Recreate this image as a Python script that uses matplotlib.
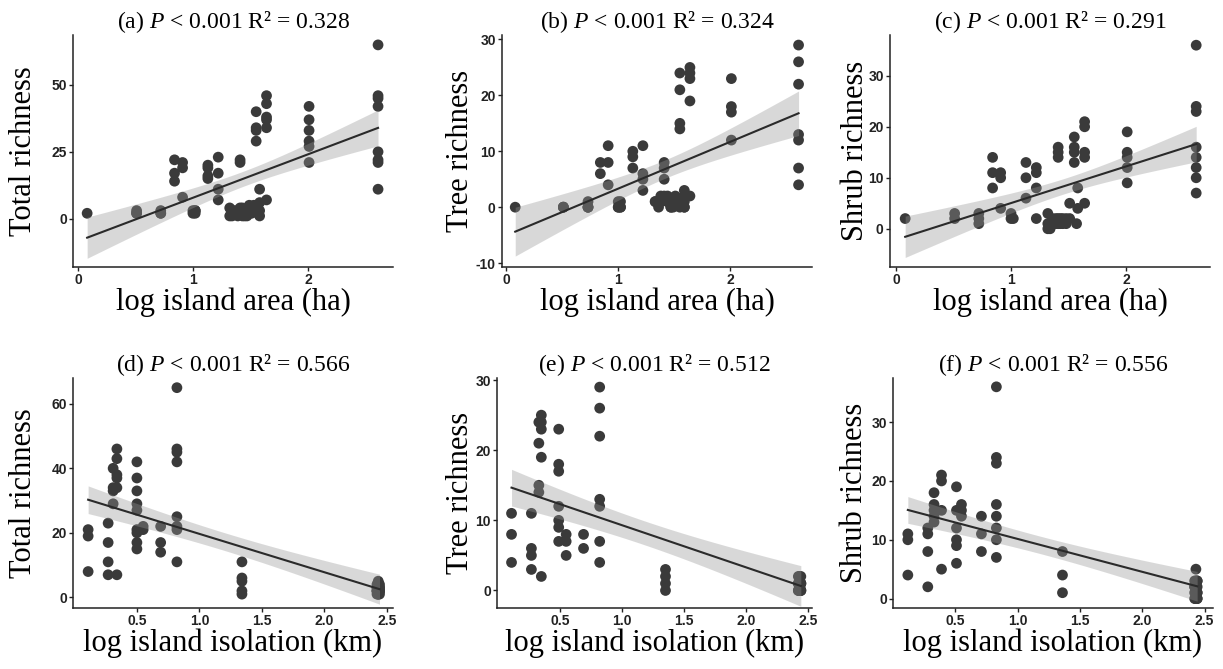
import numpy as np
import matplotlib.pyplot as plt

plt.rcParams['mathtext.fontset'] = 'custom'
plt.rcParams['mathtext.rm'] = 'Liberation Serif'
plt.rcParams['mathtext.it'] = 'Liberation Serif:italic'
plt.rcParams['axes.unicode_minus'] = False

# ---- data: x value of each island group, y values in that group
# (dense clusters of overlapping low values hold more islands than can be told apart)
area_total_x = [0.08, 0.51, 0.72, 0.84, 0.91, 1.00, 1.02, 1.13, 1.22, 1.32, 1.34, 1.36, 1.39, 1.41, 1.43, 1.45,
                1.47, 1.49, 1.51, 1.53, 1.55, 1.58, 1.64, 2.01, 2.61]
area_total_y = [[2], [3, 2, 2], [3, 2, 2], [22, 17, 14], [21, 19, 8], [3, 2], [3, 2, 3], [20, 19, 16, 15],
                [23, 17, 11, 7], [4, 1], [3, 2, 1], [3, 2], [3, 1], [22, 21, 4, 2], [4, 3, 1], [3, 1],
                [2, 1], [5, 3], [4, 2], [5], [40, 34, 33, 29], [11, 6, 3, 1],
                [46, 43, 38, 37, 34, 7], [42, 37, 33, 29, 27, 21], [65, 46, 45, 42, 25, 22, 21, 11]]

area_tree_x = [0.08, 0.51, 0.73, 0.84, 0.91, 1.00, 1.02, 1.13, 1.22, 1.33, 1.36, 1.38, 1.41, 1.44, 1.47,
               1.49, 1.51, 1.55, 1.59, 1.64, 2.01, 2.61]
area_tree_y = [[0], [0, 0, 0], [1, 0, 0, 0], [8, 6], [11, 8, 4], [0, 1, 0], [1, 0, 0], [10, 9, 7], [11, 6, 5, 3],
               [1, 1], [1, 0], [2, 1], [8, 7, 5, 2], [2, 1, 1], [0, 0], [1, 0], [2, 1],
               [24, 21, 15, 14, 0], [3, 2, 1, 0, 0], [25, 24, 23, 19, 2], [23, 18, 17, 12],
               [29, 26, 22, 13, 12, 7, 4]]

area_shrub_x = [0.08, 0.51, 0.72, 0.84, 0.91, 1.00, 1.02, 1.13, 1.22, 1.32, 1.34, 1.36, 1.39, 1.41, 1.43,
                1.45, 1.48, 1.51, 1.55, 1.57, 1.58, 1.64, 2.01, 2.61]
area_shrub_y = [[2], [3, 2], [3, 2, 1], [14, 11, 8], [11, 10, 4], [3, 2], [2], [13, 10, 6], [12, 11, 8, 2],
                [3, 1, 0], [1, 0], [2, 1], [2, 1], [16, 15, 14, 2, 1], [2, 1], [2, 1], [2, 1], [5, 2],
                [18, 16, 15, 13], [1], [8, 4], [21, 20, 15, 14, 5], [19, 15, 14, 12, 9],
                [36, 24, 23, 16, 14, 12, 10, 7]]

iso_total_x = [0.11, 0.27, 0.31, 0.34, 0.50, 0.55, 0.69, 0.82, 1.34, 2.42, 2.43, 2.44]
iso_total_y = [[21, 19, 8], [23, 17, 11, 7], [40, 34, 33, 29], [46, 43, 38, 37, 34, 7],
               [42, 37, 33, 29, 27, 21, 20, 17, 15], [22, 21], [22, 17, 14],
               [65, 46, 45, 42, 25, 22, 21, 11], [11, 6, 5, 2, 1],
               [4, 3, 2, 2, 1, 3, 2], [5, 4, 3, 3, 2, 1, 1, 4], [4, 3, 2, 2, 1, 3, 2]]

iso_tree_x = [0.11, 0.27, 0.33, 0.35, 0.49, 0.55, 0.69, 0.82, 1.35, 2.42, 2.43, 2.44]
iso_tree_y = [[11, 8, 4], [11, 6, 5, 3], [24, 21, 15, 14], [25, 24, 23, 19, 2],
              [23, 18, 17, 12, 10, 9, 7], [8, 7, 5], [8, 6], [29, 26, 22, 13, 12, 7, 4],
              [3, 2, 1, 0], [1, 0, 2, 1, 0], [2, 1, 1, 0, 0, 0, 1], [2, 1, 1, 0, 0, 0, 1]]

iso_shrub_x = [0.12, 0.28, 0.33, 0.39, 0.51, 0.55, 0.71, 0.83, 1.36, 2.42, 2.43, 2.44]
iso_shrub_y = [[11, 10, 4], [12, 11, 8, 2], [18, 16, 15, 14, 13], [21, 20, 15, 5],
               [19, 15, 12, 10, 9, 6], [16, 15, 14], [14, 11, 8], [36, 24, 23, 16, 14, 12, 10, 7],
               [8, 4, 1], [2, 1, 3, 0, 2], [5, 3, 2, 1, 0, 0, 2], [3, 2, 1, 1, 0, 0, 3]]

titles = ["(a) $P$ < 0.001 R\u00b2 = 0.328", "(b) $P$ < 0.001 R\u00b2 = 0.324", "(c) $P$ < 0.001 R\u00b2 = 0.291",
          "(d) $P$ < 0.001 R\u00b2 = 0.566", "(e) $P$ < 0.001 R\u00b2 = 0.512", "(f) $P$ < 0.001 R\u00b2 = 0.556"]
ylabels = ["Total richness", "Tree richness", "Shrub richness"] * 2
xlabels = ["log island area (ha)"] * 3 + ["log island isolation (km)"] * 3

panels = [(area_total_x, area_total_y), (area_tree_x, area_tree_y), (area_shrub_x, area_shrub_y),
          (iso_total_x, iso_total_y), (iso_tree_x, iso_tree_y), (iso_shrub_x, iso_shrub_y)]

# axes boxes in pixels (left, top, right, bottom) on a 1223x669 canvas
W, H = 1223, 669
boxes = [(73, 35, 393, 267), (502, 35, 812, 267), (890, 35, 1210, 267),
         (73, 378, 393, 608), (497, 378, 812, 608), (893, 378, 1213, 608)]
xlims = [(-0.043, 2.74), (-0.038, 2.73), (-0.052, 2.73), (-0.011, 2.548), (-0.007, 2.53), (0.001, 2.567)]
ylims = [(-18.1, 68.7), (-10.7, 30.8), (-7.5, 38.0), (-3.3, 68), (-2.5, 30.3), (-1.6, 37.5)]
yticks = [[0, 25, 50], [-10, 0, 10, 20, 30], [0, 10, 20, 30], [0, 20, 40, 60], [0, 10, 20, 30], [0, 10, 20, 30]]
ylab_x = [-0.156, -0.135, -0.109, -0.156, -0.117, -0.119]

PT = '#3a3a3a'
serif = 'Liberation Serif'

fig = plt.figure(figsize=(12.23, 6.69), dpi=100)

for i, ((gx, gy), box) in enumerate(zip(panels, boxes)):
    l, t, r, b = box
    ax = fig.add_axes([l / W, 1 - b / H, (r - l) / W, (b - t) / H])
    x = np.concatenate([[xv] * len(v) for xv, v in zip(gx, gy)])
    y = np.concatenate([np.array(v, float) for v in gy])

    ax.scatter(x, y, s=60, color=PT, edgecolors='none', zorder=2)

    # OLS fit with 95% confidence band
    n = len(x)
    slope, icpt = np.polyfit(x, y, 1)
    resid = y - (slope * x + icpt)
    s = np.sqrt(np.sum(resid ** 2) / (n - 2))
    xx = np.linspace(x.min(), x.max(), 100)
    yy = slope * xx + icpt
    se = s * np.sqrt(1 / n + (xx - x.mean()) ** 2 / np.sum((x - x.mean()) ** 2))
    ax.fill_between(xx, yy - 1.99 * se, yy + 1.99 * se, color='#949494', alpha=0.355, lw=0, zorder=3)
    ax.plot(xx, yy, color='#2a2a2a', lw=1.5, zorder=4)

    ax.set_xlim(*xlims[i])
    ax.set_ylim(*ylims[i])
    ax.set_yticks(yticks[i])
    if i < 3:
        ax.set_xticks([0, 1, 2])
    else:
        ax.set_xticks([0.5, 1.0, 1.5, 2.0, 2.5])
        ax.set_xticklabels(['0.5', '1.0', '1.5', '2.0', '2.5'])

    for sp in ['top', 'right']:
        ax.spines[sp].set_visible(False)
    for sp in ['left', 'bottom']:
        ax.spines[sp].set_linewidth(1.1)
        ax.spines[sp].set_color('#222222')
    ax.tick_params(length=3, width=1, pad=1.5, color='#222222')
    for lab in ax.get_xticklabels() + ax.get_yticklabels():
        lab.set_fontfamily('Liberation Sans')
        lab.set_fontweight('bold')
        lab.set_fontsize(10)
        lab.set_color('#222222')

    ax.set_title(titles[i], fontfamily=serif, fontsize=17, pad=5)
    ax.set_ylabel(ylabels[i], fontfamily=serif, fontsize=22, va='center')
    ax.yaxis.set_label_coords(ylab_x[i], 0.5)
    ax.set_xlabel(xlabels[i], fontfamily=serif, fontsize=22, labelpad=0)

fig.savefig('out.png', dpi=100)
